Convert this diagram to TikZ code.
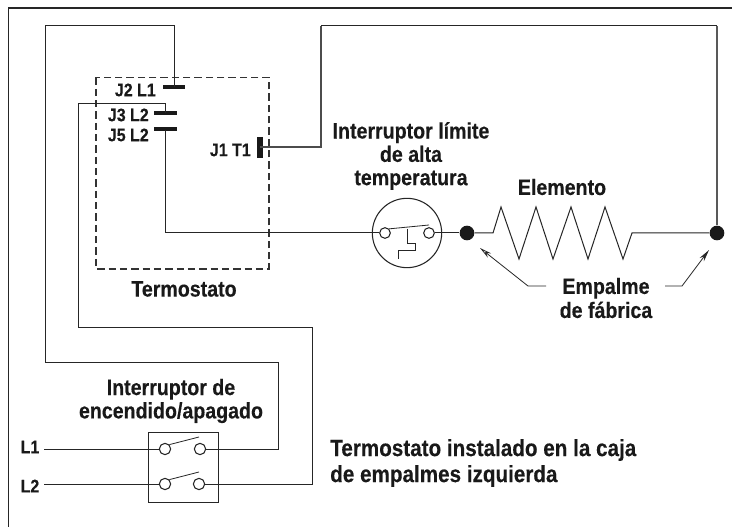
\documentclass[tikz,border=0pt]{standalone}
\usepackage{fontspec}
\usetikzlibrary{arrows.meta}
\setmainfont[BoldFont={Liberation Sans Bold},BoldFeatures={FakeStretch=0.88,FakeBold=0.25}]{Liberation Sans}
\tikzset{
  wire/.style={line width=0.75pt,black!85,line join=miter},
  greywire/.style={line width=1.5pt,black!65},
  frameline/.style={line width=1.1pt,black!85},
  bar/.style={line width=3pt,black!90},
  lbl/.style={font=\bfseries\fontsize{16.7}{17.5}\selectfont,align=center,inner sep=0pt,text=black!90},
  smalllbl/.style={lbl,font=\bfseries\fontsize{13.6}{15}\selectfont},
  term/.style={circle,draw=black!85,line width=0.8pt,fill=white,minimum size=8.5pt,inner sep=0pt},
  dotn/.style={circle,fill=black!90,minimum size=11pt,inner sep=0pt},
  thinline/.style={line width=0.6pt,black!85},
}
\begin{document}
\begin{tikzpicture}[x=0.75pt,y=-0.75pt]
\useasboundingbox (0,0) rectangle (732,527);
\fill[white] (0,0) rectangle (732,527);
\draw[frameline] (8.5,527) -- (8.5,8) -- (732,8);
% thermostat
\draw[line width=0.8pt,black!80,dash pattern=on 5.5pt off 3pt] (96,77.5) rectangle (269,269);
\node[lbl] (termo) at (184,289) {Termostato};
% contacts
\coordinate (j2a) at (163,87); \coordinate (j2b) at (185,87);
\coordinate (j3a) at (154,113); \coordinate (j3b) at (177,113);
\coordinate (j5a) at (154,129.5); \coordinate (j5b) at (177,129.5);
\coordinate (j1a) at (260,137); \coordinate (j1b) at (260,158);
\draw[bar] (j2a) -- (j2b);
\draw[bar] (j3a) -- (j3b);
\draw[bar] (j5a) -- (j5b);
\draw[bar,line width=4pt] (j1a) -- (j1b);
\node[smalllbl,anchor=east] (lj2) at (156,90) {J2 L1};
\node[smalllbl,anchor=east] (lj3) at (149,115) {J3 L2};
\node[smalllbl,anchor=east] (lj5) at (149,135) {J5 L2};
\node[smalllbl,anchor=east] (lj1) at (251,150) {J1 T1};
% switch
\node[draw=black!85,line width=0.8pt,minimum width=52.5pt,minimum height=52.5pt,inner sep=0pt,anchor=north west] (sw) at (148,432) {};
\node[term] (s1a) at (165,449) {};
\node[term] (s1b) at (200,449) {};
\node[term] (s2a) at (165,484) {};
\node[term] (s2b) at (199,484) {};
\coordinate (s1t) at (199,437);
\coordinate (s2t) at (199,472);
\draw[thinline] (s1a.north east) -- (s1t);
\draw[thinline] (s2a.north east) -- (s2t);
\node[smalllbl] (ll1) at (30,447) {L1};
\node[smalllbl] (ll2) at (30,486) {L2};
\coordinate (wl1) at (44,449);
\coordinate (wl2) at (44,484);
\draw[wire] (wl1) -- (s1a);
\draw[wire] (wl2) -- (s2a);
\node[lbl] (lsw) at (171,401) {Interruptor de\\encendido/apagado};
% wires
\coordinate (j2m) at (174.5,87);
\coordinate (j3m) at (165.5,113);
\coordinate (j5m) at (165.5,130);
\coordinate (j1m) at (260,147);
\draw[wire] (s1b) -- (278,449) -- (278,363) -- (45.5,363) -- (45.5,26) -- (174.5,26) -- (j2m);
\draw[wire] (s2b) -- (312.5,484) -- (312.5,328) -- (78.5,328) -- (78.5,103.5) -- (165.5,103.5) -- (j3m);
% high limit
\node[circle,draw=black!85,line width=0.8pt,minimum size=52pt,inner sep=0pt] (hl) at (407,233) {};
\node[term,minimum size=8pt] (ha) at (385,233) {};
\node[term,minimum size=8pt] (hb) at (429,233) {};
\draw[thinline] (ha.north east) -- (429,225);
\draw[thinline] (407,229) -- (407,243) -- (415,243) -- (415,250) -- (398,250) -- (398,259);
\draw[wire] (j5m) -- (165.5,233) -- (hl.west);
\draw[wire] (hl.west) -- (ha);
\draw[wire] (hb) -- (hl.east);
\node[dotn] (d1) at (467,233) {};
\node[dotn] (d2) at (717,233) {};
\draw[wire] (hl.east) -- (d1);
\draw[wire] (d1) -- (493,233) -- (501,207) -- (519,259) -- (536,207) -- (553,259) -- (571,207) -- (588,259) -- (605,207) -- (623,259) -- (632,233) -- (d2);
\coordinate (tr) at (717,26);
\coordinate (tm) at (321,26);
\coordinate (mj) at (321,147);
\draw[greywire] (d2) -- (tr);
\draw[wire] (tr) -- (tm);
\draw[line width=1.1pt,black!70] (tm) -- (mj) -- (j1m);
\node[lbl] (lhl) at (411,156) {Interruptor límite\\de alta\\temperatura};
\node[lbl] (lel) at (562,187) {Elemento};
\node[lbl,font=\bfseries\fontsize{16.7}{18}\selectfont] (lem) at (606,298) {Empalme\\de fábrica};
\coordinate (t1) at (480,248);
\coordinate (k1) at (528,286);
\coordinate (k1e) at (546,286);
\coordinate (t2) at (709,250);
\coordinate (k2) at (682,286);
\coordinate (k2e) at (665,286);
\draw[thinline,-{Stealth[length=9pt,width=4pt,open]}] (k1e) -- (k1) -- (t1);
\draw[thinline,-{Stealth[length=9pt,width=4pt]}] (k2e) -- (k2) -- (t2);
\node[lbl,align=left,anchor=west,font=\bfseries\fontsize{17.6}{19.5}\selectfont] (lnote) at (330,463) {Termostato instalado en la caja\\de empalmes izquierda};
\end{tikzpicture}
\end{document}
